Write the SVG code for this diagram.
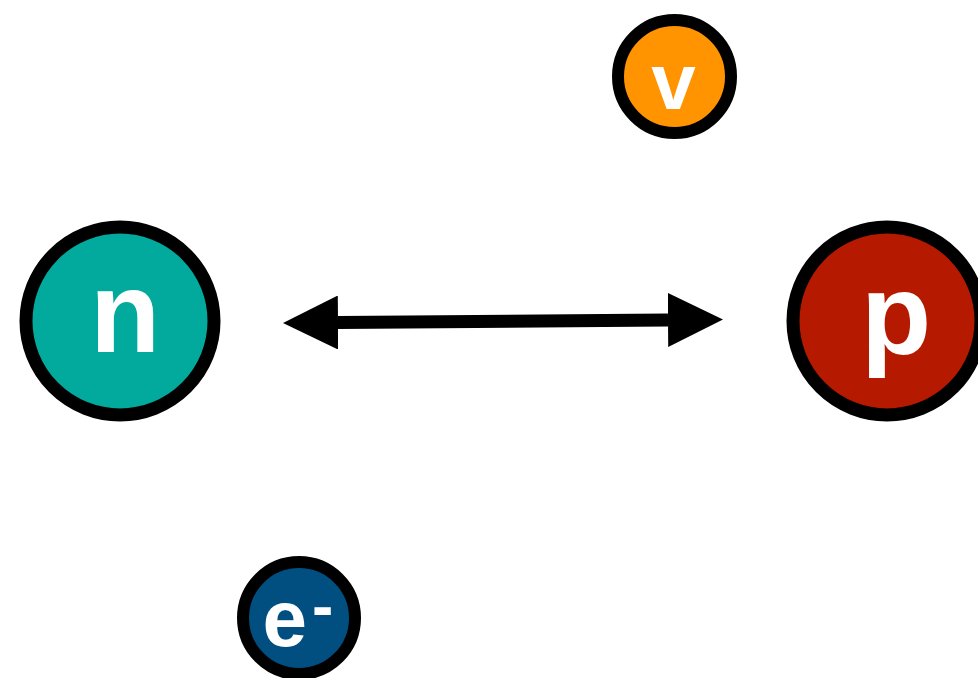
<svg xmlns="http://www.w3.org/2000/svg" width="978" height="678" viewBox="0 0 978 678">
  <style>
    .ring { stroke: #000; }
    .label { font-family: "Liberation Sans", Arial, Helvetica, sans-serif; font-weight: bold; fill: #fff; }
  </style>
  <defs>
    <marker id="head" viewBox="0 0 55 54" refX="0" refY="27" markerWidth="55" markerHeight="54" markerUnits="userSpaceOnUse" orient="auto-start-reverse">
      <path d="M0,0 L55,27 L0,54 Z" fill="#000"/>
    </marker>
  </defs>
  <rect width="978" height="678" fill="#fff"/>

  <!-- connectors -->
  <g id="connectors">
    <line x1="338" y1="322.5" x2="668" y2="320" stroke="#000" stroke-width="13" marker-start="url(#head)" marker-end="url(#head)"/>
  </g>

  <!-- neutron -->
  <g id="node-n">
    <circle class="ring" cx="120" cy="321" r="94" fill="#02A99D" stroke-width="13"/>
    <text class="label" x="125" y="352" font-size="115" text-anchor="middle">n</text>
  </g>

  <!-- proton -->
  <g id="node-p">
    <circle class="ring" cx="887" cy="321" r="94" fill="#B51A00" stroke-width="13"/>
    <text class="label" x="896" y="354" font-size="115" text-anchor="middle">p</text>
  </g>

  <!-- neutrino -->
  <g id="node-v">
    <circle class="ring" cx="674.5" cy="76.5" r="56.5" fill="#FF9300" stroke-width="12"/>
    <text class="label" x="673.5" y="109" font-size="80" text-anchor="middle">v</text>
  </g>

  <!-- electron -->
  <g id="node-e">
    <circle class="ring" cx="299" cy="618" r="56" fill="#004F80" stroke-width="12"/>
    <text class="label" x="262.5" y="646" font-size="80">e<tspan font-size="64" dx="5" dy="-18">-</tspan></text>
  </g>
</svg>
